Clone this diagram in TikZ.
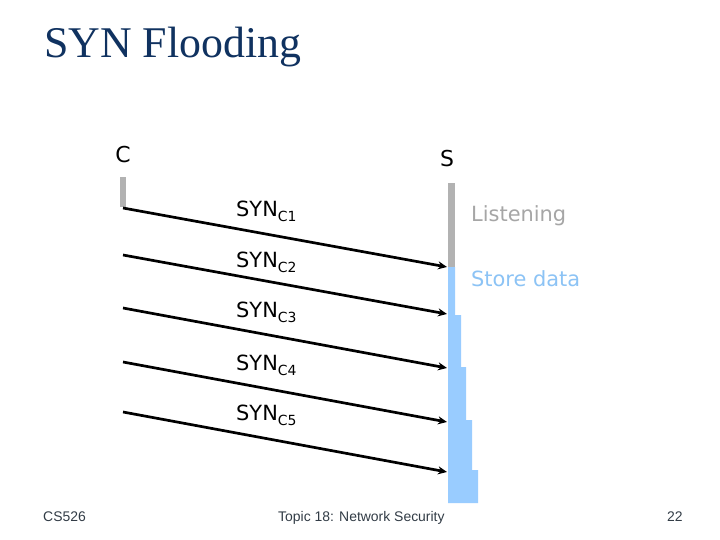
\documentclass[tikz,border=0pt]{standalone}
\usepackage{fontspec}
\setmainfont{DejaVu Sans}
\newfontfamily\titlefont{Liberation Serif}
\newfontfamily\footfont{Liberation Sans}
\usetikzlibrary{arrows.meta}
\definecolor{titleblue}{RGB}{16,50,96}
\definecolor{bargray}{RGB}{178,178,178}
\definecolor{barblue}{RGB}{153,204,255}
\definecolor{listengray}{RGB}{166,166,166}
\definecolor{storeblue}{RGB}{140,195,245}
\definecolor{footgray}{RGB}{50,60,70}
\newcommand\synsub[1]{\raisebox{-5bp}{\fontsize{14}{14}\selectfont #1}}
\begin{document}
\begin{tikzpicture}[x=1bp,y=-1bp,
  lbl/.style={font=\fontsize{21}{21}\selectfont, inner sep=0pt, anchor=base west},
  hostlbl/.style={font=\fontsize{22}{22}\selectfont, inner sep=0pt, anchor=base},
  msg/.style={line width=2.7bp, -{Stealth[length=9bp,width=8bp]}},
  foot/.style={font=\footfont\fontsize{14}{14}\selectfont, text=footgray, inner sep=0pt, anchor=base west}]
\useasboundingbox (0,0) rectangle (720,540);
\fill[white] (0,0) rectangle (720,540);
% title
\node[font=\titlefont\fontsize{44}{44}\selectfont, text=titleblue, inner sep=0pt, anchor=base west] (title) at (44,58) {SYN Flooding};
% hosts
\node[hostlbl] (C) at (123,163) {C};
\node[hostlbl] (S) at (447,167) {S};
% bars
\fill[bargray] (120,177) rectangle (126,207);
\fill[bargray] (448,183) rectangle (455,267);
\fill[barblue] (448,267) -- (455,267) -- (455,315) -- (461,315) -- (461,367) -- (466,367) -- (466,420) -- (472,420) -- (472,470) -- (478,470) -- (478,503) -- (448,503) -- cycle;
% endpoints
\coordinate (c1) at (123,208); \coordinate (s1) at (447,267);
\coordinate (c2) at (123,255); \coordinate (s2) at (447,314);
\coordinate (c3) at (123,308); \coordinate (s3) at (447,368);
\coordinate (c4) at (123,362); \coordinate (s4) at (447,422);
\coordinate (c5) at (123,412); \coordinate (s5) at (447,472);
\draw[msg] (c1) -- (s1);
\draw[msg] (c2) -- (s2);
\draw[msg] (c3) -- (s3);
\draw[msg] (c4) -- (s4);
\draw[msg] (c5) -- (s5);
% labels
\node[lbl] (m1) at (236,217) {SYN\synsub{C1}};
\node[lbl] (m2) at (236,268) {SYN\synsub{C2}};
\node[lbl] (m3) at (236,317) {SYN\synsub{C3}};
\node[lbl] (m4) at (236,370) {SYN\synsub{C4}};
\node[lbl] (m5) at (236,420) {SYN\synsub{C5}};
\node[lbl, text=listengray] (listen) at (471,222) {Listening};
\node[lbl, text=storeblue] (store) at (471,287) {Store data};
% footer
\node[foot] (f1) at (43,521) {CS526};
\node[foot] (f2) at (278,521) {Topic 18: Network Security};
\node[foot] (f3) at (667,521) {22};
\end{tikzpicture}
\end{document}
